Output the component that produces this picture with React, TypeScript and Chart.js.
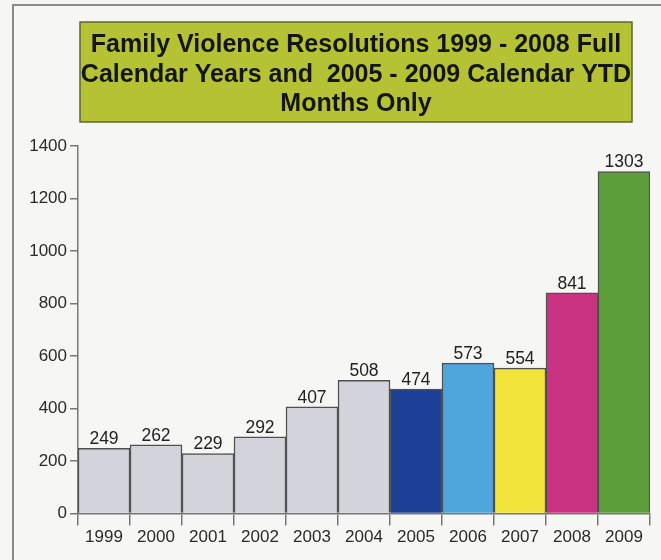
import React, { useEffect, useRef } from "react";
import { Chart, registerables } from "chart.js";

Chart.register(...registerables);

const years = ["1999", "2000", "2001", "2002", "2003", "2004", "2005", "2006", "2007", "2008", "2009"];
const resolutions = [249, 262, 229, 292, 407, 508, 474, 573, 554, 841, 1303];
const barColors = [
  "#d3d3db", "#d3d3db", "#d3d3db", "#d3d3db", "#d3d3db", "#d3d3db",
  "#1d3f95", "#4ea6dc", "#f3e43c", "#ca3381", "#5c9f3a",
];
const titleLines = [
  "Family Violence Resolutions 1999 - 2008 Full",
  "Calendar Years and  2005 - 2009 Calendar YTD",
  "Months Only",
];
const yTicks = [0, 200, 400, 600, 800, 1000, 1200, 1400];

const FONT = "'Liberation Sans', Arial, sans-serif";

const decorPlugin = {
  id: "decor",
  beforeDraw(chart: any) {
    const ctx = chart.ctx;
    const w = chart.width;
    const h = chart.height;
    ctx.save();
    ctx.fillStyle = "#f6f6f4";
    ctx.fillRect(0, 0, w, h);
    // frame
    ctx.strokeStyle = "#8a8a8a";
    ctx.lineWidth = 2;
    ctx.beginPath();
    ctx.moveTo(13, h);
    ctx.lineTo(13, 5);
    ctx.lineTo(w, 5);
    ctx.stroke();
    // title box
    ctx.fillStyle = "#b5c234";
    ctx.fillRect(80, 22, 552, 100);
    ctx.strokeStyle = "#5f6530";
    ctx.lineWidth = 1.5;
    ctx.strokeRect(80, 22, 552, 100);
    ctx.fillStyle = "#151515";
    ctx.font = "bold 25px " + FONT;
    ctx.textAlign = "center";
    ctx.textBaseline = "alphabetic";
    titleLines.forEach((t, i) => {
      ctx.fillText(t, 356, 52 + i * 29.5);
    });
    ctx.restore();
  },
  afterDatasetsDraw(chart: any) {
    const ctx = chart.ctx;
    const meta = chart.getDatasetMeta(0);
    ctx.save();
    ctx.fillStyle = "#222";
    ctx.font = "17.5px " + FONT;
    ctx.textAlign = "center";
    ctx.textBaseline = "alphabetic";
    meta.data.forEach((bar: any, i: number) => {
      ctx.fillText(String(resolutions[i]), bar.x, bar.y - 4);
    });
    ctx.restore();
  },
};

export default function App() {
  const ref = useRef<HTMLCanvasElement>(null);
  useEffect(() => {
    if (!ref.current) return;
    const chart = new Chart(ref.current, {
      type: "bar",
      data: {
        labels: years,
        datasets: [
          {
            data: resolutions,
            backgroundColor: barColors,
            borderColor: "#505050",
            borderWidth: 1.5,
            barPercentage: 1,
            categoryPercentage: 1,
          },
        ],
      },
      options: {
        animation: false,
        responsive: false,
        devicePixelRatio: 1,
        layout: { padding: { top: 146, left: 0, right: 11, bottom: 10 } },
        plugins: {
          legend: { display: false },
          title: { display: false },
          tooltip: { enabled: false },
        },
        scales: {
          x: {
            grid: { drawOnChartArea: false, drawTicks: true, tickLength: 12, color: "#777", lineWidth: 1.5 },
            border: { color: "#777", width: 1.5 },
            ticks: { color: "#2a2a2a", font: { size: 17, family: FONT }, padding: 2 },
          },
          y: {
            min: 0,
            max: 1400,
            afterFit: (scale: any) => {
              scale.width = 78;
            },
            afterBuildTicks: (scale: any) => {
              scale.ticks = yTicks.map((v) => ({ value: v }));
            },
            grid: { drawOnChartArea: false, drawTicks: true, tickLength: 8, color: "#777", lineWidth: 1.5 },
            border: { color: "#777", width: 1.5 },
            ticks: {
              color: "#2a2a2a",
              font: { size: 17, family: FONT },
              padding: 3,
              callback: (v: any) => String(v),
            },
          },
        },
      },
      plugins: [decorPlugin],
    });
    return () => chart.destroy();
  }, []);
  return (
    <canvas
      ref={ref}
      width={661}
      height={560}
      style={{ position: "absolute", left: 0, top: 0, width: 661, height: 560 }}
    />
  );
}
